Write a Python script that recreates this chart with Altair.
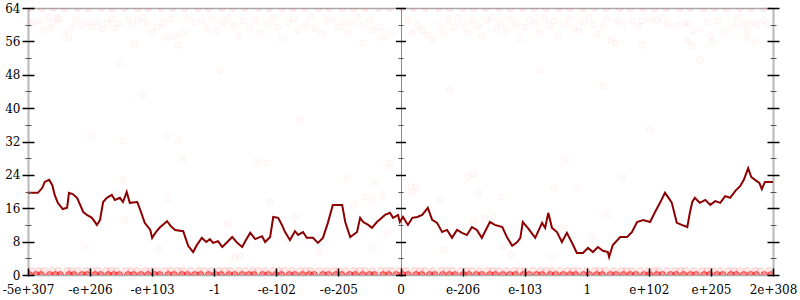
import altair as alt
import pandas as pd

# ---------------- data ----------------
X_LABELS = ["-5e+307", "-e+206", "-e+103", "-1", "-e-102", "-e-205", "0",
            "e-206", "e-103", "1", "e+102", "e+205", "2e+308"]
X_TICKS = list(range(13))
Y_MAJOR = [0, 8, 16, 24, 32, 40, 48, 56, 64]
Y_MINOR = [4, 12, 20, 28, 36, 44, 52, 60]

line_x = [0.00, 0.16, 0.23, 0.27, 0.34, 0.39, 0.43, 0.48, 0.56, 0.63, 0.66, 0.72, 0.79, 0.84,
          0.89, 0.95, 1.03, 1.11, 1.16, 1.21, 1.27, 1.35, 1.40, 1.48, 1.53, 1.59, 1.64, 1.76,
          1.82, 1.88, 1.97, 2.00, 2.06, 2.13, 2.17, 2.24, 2.30, 2.37, 2.50, 2.58, 2.66, 2.72,
          2.80, 2.87, 2.93, 2.98, 3.06, 3.13, 3.21, 3.29, 3.37, 3.45, 3.51, 3.58, 3.66, 3.77,
          3.82, 3.90, 3.95, 4.03, 4.09, 4.14, 4.22, 4.30, 4.35, 4.43, 4.49, 4.59, 4.67, 4.75,
          4.83, 4.91, 5.06, 5.11, 5.19, 5.30, 5.35, 5.40, 5.48, 5.54, 5.62, 5.70, 5.75, 5.83,
          5.88, 5.96, 5.99, 6.04, 6.12, 6.19, 6.27, 6.35, 6.44, 6.51, 6.59, 6.67, 6.75, 6.83,
          6.91, 6.99, 7.07, 7.15, 7.23, 7.31, 7.44, 7.52, 7.64, 7.72, 7.80, 7.88, 7.93, 7.97,
          8.05, 8.17, 8.28, 8.33, 8.38, 8.44, 8.52, 8.60, 8.68, 8.78, 8.84, 8.94, 9.02, 9.10,
          9.18, 9.26, 9.34, 9.36, 9.42, 9.54, 9.65, 9.73, 9.81, 9.91, 10.02, 10.10, 10.18,
          10.26, 10.34, 10.37, 10.45, 10.53, 10.62, 10.66, 10.70, 10.74, 10.82, 10.91, 10.99,
          11.07, 11.15, 11.23, 11.31, 11.39, 11.47, 11.53, 11.60, 11.65, 11.71, 11.78, 11.82,
          11.87, 12.00]
line_y = [19.7, 19.7, 20.9, 22.3, 22.8, 21.6, 19.2, 17.3, 15.8, 16.1, 19.7, 19.4, 18.5, 16.8,
          15.1, 14.4, 13.7, 12.0, 13.2, 17.5, 18.5, 19.2, 18.0, 18.5, 17.5, 19.9, 17.3, 17.5,
          15.1, 12.5, 10.8, 8.9, 10.3, 11.5, 12.0, 12.9, 11.7, 10.8, 10.5, 7.0, 5.5, 7.2,
          8.9, 7.9, 8.6, 7.7, 8.1, 6.7, 7.9, 9.1, 7.7, 6.7, 8.4, 10.1, 8.6, 9.3,
          7.9, 9.1, 13.9, 13.7, 12.0, 10.3, 8.4, 10.5, 9.6, 10.3, 8.9, 8.9, 7.7, 8.9,
          12.5, 16.8, 16.8, 12.7, 9.1, 10.3, 13.7, 12.7, 12.0, 11.3, 12.7, 13.7, 14.4, 14.9,
          13.7, 14.4, 12.7, 13.9, 12.0, 13.7, 13.9, 14.4, 16.1, 13.2, 12.5, 10.3, 10.8, 8.9,
          10.8, 10.1, 9.6, 11.5, 10.8, 8.9, 12.7, 12.0, 11.5, 8.9, 7.0, 7.9, 8.9, 12.7,
          11.3, 8.9, 12.5, 11.3, 14.9, 11.3, 10.3, 7.9, 10.1, 7.2, 5.3, 5.3, 6.5, 5.5,
          6.7, 5.8, 5.5, 4.3, 7.2, 9.1, 9.1, 10.3, 12.7, 13.2, 12.7, 15.1, 17.3,
          19.7, 18.0, 17.3, 12.5, 12.0, 11.5, 14.9, 17.5, 18.5, 17.3, 18.0, 16.8,
          17.7, 17.3, 18.9, 18.5, 20.1, 21.3, 22.8, 25.6, 23.5, 22.8, 22.1, 20.6,
          22.3, 22.3]

# scattered samples (upper cluster and sparse middle values)
scatter_x = [0.03, 0.08, 0.18, 0.24, 0.32, 0.35, 0.40, 0.47, 0.50, 0.60, 0.66, 0.71, 0.77, 0.85,
             0.97, 1.03, 1.11, 1.19, 1.27, 1.35, 1.40, 1.45, 1.61, 1.69, 1.71, 1.77, 1.85, 1.92,
             2.00, 2.08, 2.17, 2.24, 2.29, 2.37, 2.42, 2.48, 2.56, 2.69,
             2.80, 2.88, 2.97, 3.05, 3.14, 3.22, 3.31, 3.40, 3.47, 3.58, 3.66, 3.74, 3.85, 3.93,
             4.02, 4.10, 4.19, 4.28, 4.36, 4.47, 4.55, 4.63, 4.74, 4.82, 4.91, 5.00, 5.09, 5.15,
             5.22, 5.30, 5.40, 5.51, 5.56, 5.67, 5.72, 5.83, 5.40, 6.12, 6.19, 6.27, 6.35, 6.44,
             6.52, 6.64, 6.69, 6.77,
             6.86, 6.93, 7.01, 7.08, 7.16, 7.24, 7.31, 7.39, 7.47, 7.55, 7.62, 7.70, 7.78, 7.86,
             7.93, 8.01, 8.09, 8.17, 8.24, 8.32, 8.40, 8.48, 8.55, 8.63, 8.71, 8.79, 8.87, 8.95,
             9.03, 9.10, 9.17,
             9.26, 9.33, 9.47, 9.58, 9.73, 9.83, 9.89, 10.02, 10.13, 10.23, 10.31, 10.45, 10.58,
             10.65, 10.70, 10.82, 10.94, 10.99, 11.11, 11.23, 11.36, 11.42, 11.52, 11.58, 11.66,
             11.74, 11.84, 11.90, 9.46, 9.39, 9.89, 10.62, 10.70, 11.02, 11.58, 11.71,
             1.47, 1.85, 1.01, 1.53, 2.22, 2.43, 2.50, 1.53, 2.26, 0.92, 1.56, 2.11, 3.21, 3.90,
             3.33, 3.41, 3.69, 3.85, 5.14, 5.78, 5.83, 5.59, 5.43, 5.24, 5.72, 5.54, 4.30, 5.78,
             5.56, 4.69, 4.17, 7.09, 7.18, 7.25, 6.17, 6.25, 6.20, 6.64, 7.62, 7.49, 7.36, 7.18,
             6.70, 7.64, 7.78, 7.20, 8.65, 9.57, 8.84, 8.47, 9.33, 8.60, 9.09, 8.44, 9.26,
             6.80, 4.38, 8.25, 10.82, 10.02, 3.09]
scatter_y = [60.4, 60.6, 60.9, 58.5, 61.8, 59.2, 60.4, 61.6, 61.4, 58.2, 56.8, 59.4, 61.1, 59.9,
             60.4, 59.4, 60.6, 59.0, 60.4, 61.4, 59.2, 60.2, 61.1, 60.2, 55.6, 61.1, 61.6, 60.4,
             58.2, 59.4, 60.4, 57.0, 61.4, 57.3, 55.1, 58.0, 61.6, 60.4,
             60.9, 59.2, 61.4, 58.5, 60.4, 61.8, 59.7, 57.5, 60.9, 59.2, 61.1, 58.0, 60.2, 61.6,
             59.4, 56.6, 60.6, 61.4, 58.7, 60.0, 61.8, 59.0, 57.8, 60.9, 61.4, 59.4, 60.4, 58.2,
             60.4, 61.8, 59.9, 61.1, 58.7, 59.4, 57.0, 58.2, 55.6, 61.1, 58.0, 59.9, 58.7, 57.5,
             56.3, 59.9, 58.0, 61.1,
             59.4, 61.6, 60.2, 58.2, 61.1, 59.7, 57.3, 60.9, 61.8, 59.0, 60.4, 58.5, 61.4, 60.0,
             56.8, 59.4, 61.1, 60.4, 58.0, 61.6, 59.7, 60.9, 57.5, 60.2, 61.4, 59.2, 58.5, 60.6,
             61.8, 59.9, 57.8,
             59.9, 61.4, 60.9, 60.4, 60.9, 59.7, 60.9, 61.4, 61.1, 61.4, 59.9, 59.9, 60.4,
             60.2, 58.5, 59.0, 60.6, 57.3, 60.9, 58.2, 59.7, 61.6, 60.2, 58.7, 60.6,
             59.9, 61.1, 60.2, 55.6, 56.3, 55.1, 56.1, 54.9, 55.8, 56.8, 55.8,
             50.8, 43.1, 33.3, 32.1, 33.3, 32.4, 28.0, 22.8, 18.5, 6.7, 13.2, 6.2, 12.2, 17.5,
             4.1, 4.6, 27.1, 26.8, 23.2, 25.9, 26.8, 22.3, 18.7, 16.8, 18.7, 18.0, 13.9, 10.1,
             6.5, 5.3, 8.4, 23.5, 24.2, 19.7, 21.1, 21.1, 19.7, 18.0, 18.7, 14.1, 13.7, 12.9,
             6.0, 6.7, 4.8, 9.6, 27.6, 23.5, 21.1, 20.9, 14.6, 11.3, 9.1, 4.3, 45.3,
             44.3, 37.2, 49.1, 51.5, 34.8, 49.1]

row64_x = [0.05, 0.22, 0.41, 0.58, 0.80, 0.97, 1.18, 1.36, 1.55, 1.77, 1.94, 2.15, 2.33, 2.52,
           2.74, 2.91, 3.12, 3.30, 3.49, 3.71, 3.88, 4.09, 4.27, 4.46, 4.68, 4.85, 5.06, 5.24,
           5.43, 5.65, 5.82, 6.03, 6.21, 6.40, 6.62, 6.79, 7.00, 7.18, 7.37, 7.59, 7.76, 7.97,
           8.15, 8.34, 8.56, 8.73, 8.94, 9.12, 9.31, 9.53, 9.70, 9.91, 10.09, 10.28, 10.50,
           10.67, 10.88, 11.06, 11.25, 11.47, 11.64, 11.85]
row1_x = [0.06, 0.17, 0.26, 0.39, 0.49, 0.63, 0.70, 0.81, 0.94, 1.03, 1.13, 1.26, 1.34, 1.43,
          1.57, 1.66, 1.76, 1.89, 1.98, 2.08, 2.21, 2.30, 2.41, 2.50, 2.62, 2.75, 2.84, 2.95,
          3.08, 3.17, 3.26, 3.39, 3.50, 3.62, 3.71, 3.82, 3.95, 4.04, 4.13, 4.25, 4.38, 4.47,
          4.56, 4.69, 4.80, 4.92, 5.01, 5.12, 5.25, 5.34, 5.43, 5.55, 5.68, 5.77, 5.86, 5.99,
          6.09, 6.22, 6.31, 6.40, 6.52, 6.65, 6.74, 6.84, 6.97, 7.06, 7.15, 7.27, 7.40, 7.49,
          7.58, 7.70, 7.83, 7.92, 8.01, 8.14, 8.26, 8.35, 8.44, 8.57, 8.69, 8.78, 8.87, 9.00,
          9.13, 9.21, 9.30, 9.43, 9.56, 9.64, 9.73, 9.86, 9.99, 10.08, 10.16, 10.29, 10.42,
          10.51, 10.59, 10.72, 10.85, 10.94, 11.03, 11.15, 11.28, 11.37, 11.46, 11.58, 11.71,
          11.80, 11.93]
row0_x = [0.02, 0.13, 0.21, 0.35, 0.44, 0.52, 0.66, 0.74, 0.87, 0.95, 1.08, 1.17, 1.29, 1.38,
          1.47, 1.61, 1.70, 1.82, 1.93, 2.04, 2.12, 2.26, 2.35, 2.48, 2.57, 2.69, 2.78, 2.91,
          3.02, 3.11, 3.24, 3.33, 3.45, 3.56, 3.64, 3.78, 3.87, 3.99, 4.08, 4.21, 4.30, 4.42,
          4.53, 4.61, 4.75, 4.84, 4.96, 5.05, 5.18, 5.27, 5.39, 5.50, 5.58, 5.72, 5.81, 5.93,
          6.03, 6.12, 6.25, 6.34, 6.47, 6.55, 6.68, 6.79, 6.88, 7.01, 7.10, 7.22, 7.31, 7.44,
          7.53, 7.65, 7.76, 7.85, 7.98, 8.07, 8.19, 8.28, 8.41, 8.50, 8.62, 8.73, 8.82, 8.95,
          9.04, 9.16, 9.25, 9.38, 9.47, 9.59, 9.70, 9.79, 9.92, 10.01, 10.13, 10.22, 10.35,
          10.44, 10.56, 10.67, 10.76, 10.89, 10.98, 11.10, 11.19, 11.32, 11.41, 11.53, 11.64,
          11.73, 11.86, 11.97]

# ---------------- tables ----------------
line_df = pd.DataFrame({"x": line_x, "y": line_y})
scatter_df = pd.DataFrame({"x": scatter_x, "y": scatter_y})
row64_df = pd.DataFrame({"x": row64_x, "y": [64] * len(row64_x)})
row1_df = pd.DataFrame({"x": row1_x, "y": [1] * len(row1_x)})
row0_df = pd.DataFrame({"x": row0_x, "y": [0] * len(row0_x)})

FONT = "DejaVu Serif"
xs = alt.Scale(domain=[0, 12], nice=False, zero=False)
ys = alt.Scale(domain=[0, 64], nice=False, zero=False)
label_expr = "[" + ",".join("'%s'" % s for s in X_LABELS) + "][datum.value]"


def enc(chart, xaxis, yaxis):
    return chart.encode(
        x=alt.X("x:Q", scale=xs, axis=xaxis, title=None),
        y=alt.Y("y:Q", scale=ys, axis=yaxis, title=None),
    )


def grid_axis(orient, values, color, width):
    return alt.Axis(orient=orient, values=values, grid=True, gridColor=color,
                    gridWidth=width, labels=False, ticks=False, domain=False,
                    title=None, zindex=0)


def tick_axis(orient, values, offset, size, color, width, labels=False):
    kw = dict(orient=orient, values=values, offset=offset, tickSize=size,
              tickColor=color, tickWidth=width, domain=False, grid=False,
              labels=labels, title=None, zindex=1)
    if labels:
        kw.update(labelFont=FONT, labelFontSize=12, labelColor="black",
                  labelPadding=2)
    return alt.Axis(**kw)


x_bottom = alt.Axis(orient="bottom", values=X_TICKS, labelExpr=label_expr, offset=-7,
                    tickSize=8, tickColor="black", tickWidth=1.5, labelPadding=8,
                    labelFont=FONT, labelFontSize=12, labelColor="black",
                    labelFlush=False, labelOverlap=False, domain=False, grid=False,
                    title=None, zindex=1)

dummy = alt.Chart(line_df).mark_point(opacity=0)

pt_style = dict(fill="#ff0000", stroke="#ff0000", strokeWidth=1, clip=True)

layers = [
    enc(dummy, grid_axis("bottom", [0, 12], "#b8b8b8", 2),
        grid_axis("left", [0, 64], "#aaaaaa", 1.5)),
    enc(dummy, grid_axis("top", [6], "#8c8c8c", 1),
        tick_axis("left", Y_MAJOR, -6, 12, "black", 1.5, labels=True)),
    enc(alt.Chart(scatter_df).mark_circle(size=40, fillOpacity=0.015, strokeOpacity=0.05,
                                          **pt_style),
        x_bottom, tick_axis("left", Y_MINOR, -3, 6, "#555555", 1)),
    enc(alt.Chart(row64_df).mark_circle(size=40, fillOpacity=0.05, strokeOpacity=0.1,
                                        **pt_style),
        None, None),
    enc(alt.Chart(row1_df).mark_circle(size=48, fillOpacity=0.09, strokeOpacity=0.1,
                                       **pt_style),
        None, None),
    enc(alt.Chart(row0_df).mark_circle(size=48, fillOpacity=0.4, strokeOpacity=0.5,
                                       **pt_style),
        None, None),
    enc(alt.Chart(line_df).mark_line(color="#8b0000", strokeWidth=2),
        None, tick_axis("left", Y_MAJOR, -377.5, 10, "black", 1.5)),
    enc(dummy, None, tick_axis("left", Y_MINOR, -375, 5, "#555555", 1)),
    enc(dummy, None, tick_axis("right", Y_MAJOR, -6, 12, "black", 1.5)),
    enc(dummy, None, tick_axis("right", Y_MINOR, -3, 6, "#555555", 1)),
]

chart = (
    alt.layer(*layers)
    .resolve_scale(x="shared", y="shared")
    .resolve_axis(x="independent", y="independent")
    .properties(width=745, height=267, background="white",
                autosize=alt.AutoSizeParams(type="none"),
                padding={"left": 28, "top": 8, "right": 27, "bottom": 25})
    .configure_view(stroke=None)
)

chart.save("out.html", embed_options={"renderer": "svg", "actions": False})
